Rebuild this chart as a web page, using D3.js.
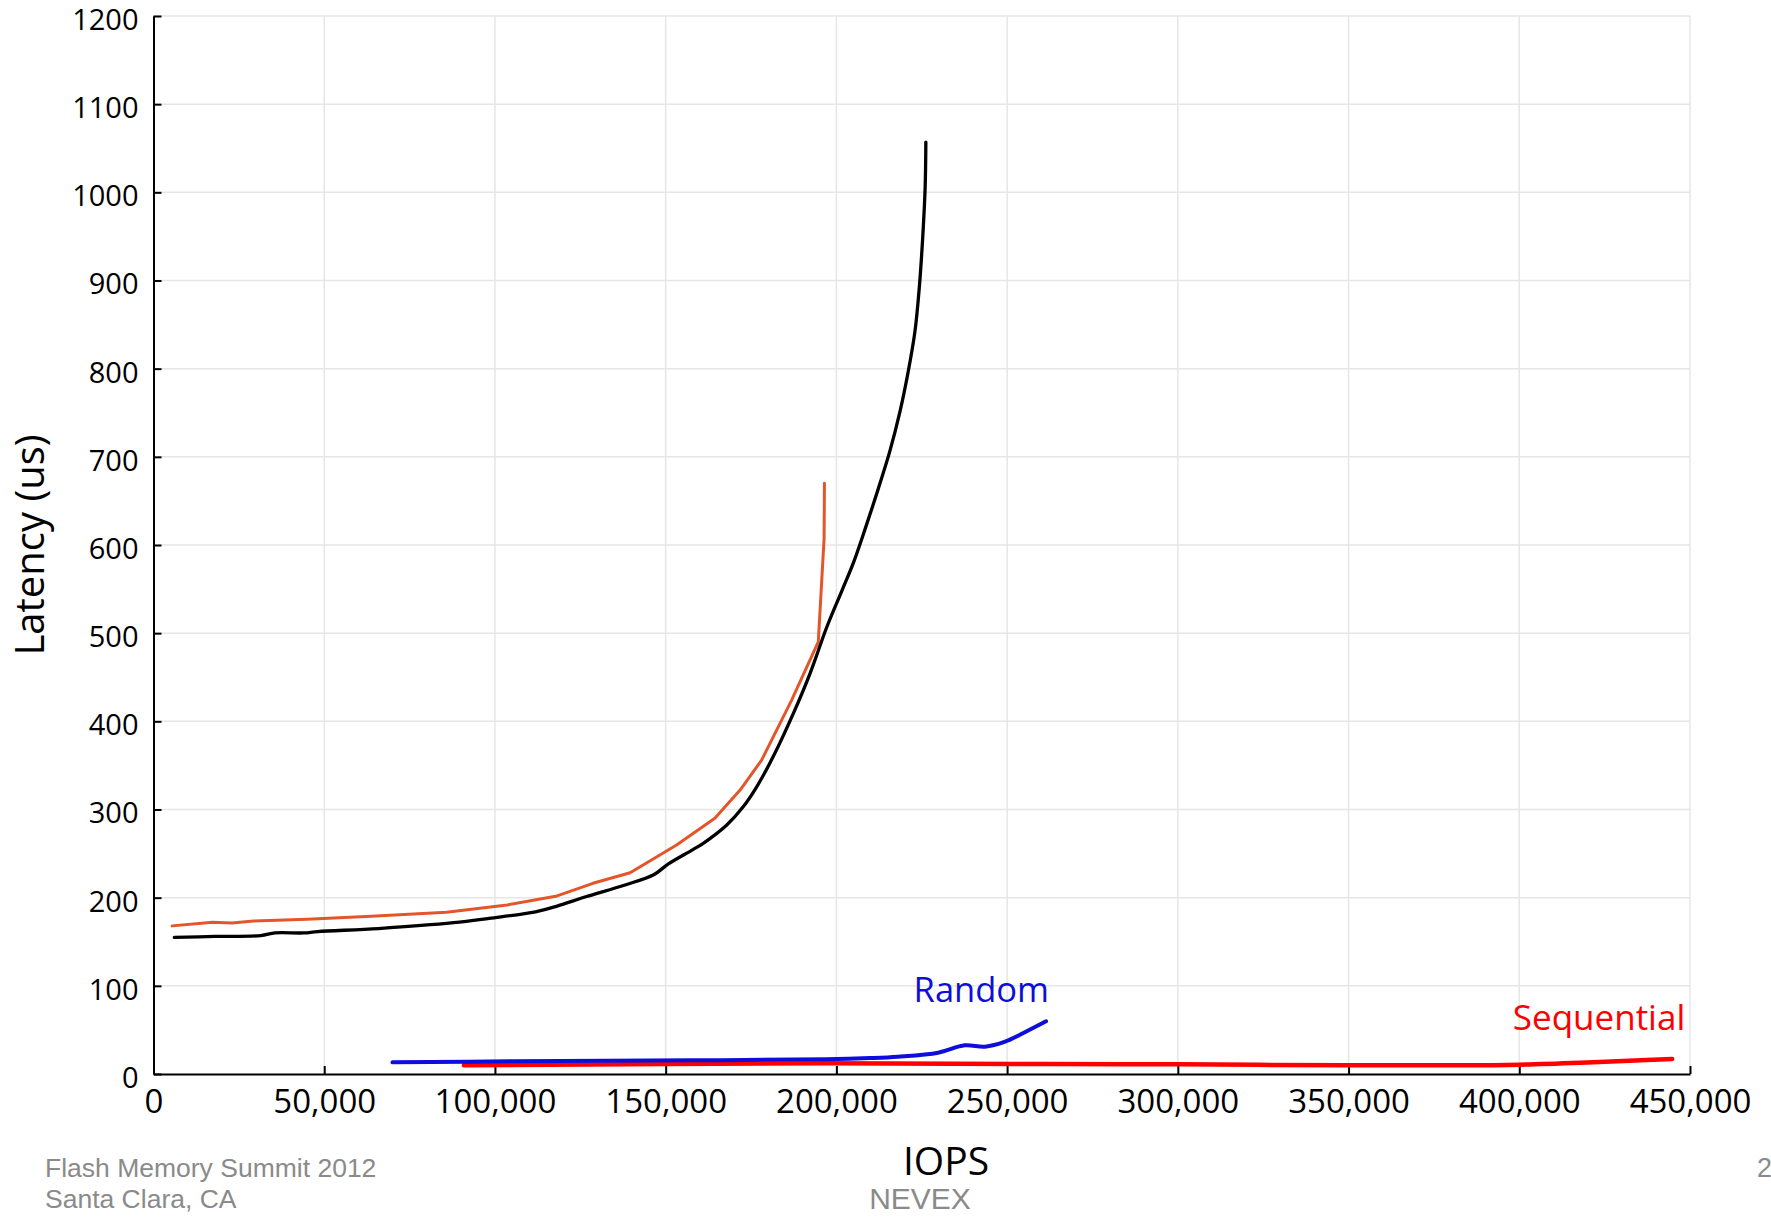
<!DOCTYPE html>
<html>
<head>
<meta charset="utf-8">
<script src="https://cdn.jsdelivr.net/npm/d3@7"></script>
<style>
  body { margin: 0; background: #fff; }
  svg { display: block; }
  .tick text { font-family: "Open Sans", sans-serif; fill: #000; }
  .footer { font-family: "Liberation Sans", Arial, sans-serif; fill: #8a8a8a; }
</style>
</head>
<body>
<div id="chart"></div>
<script>
// tick values
const xTicks = [0, 50000, 100000, 150000, 200000, 250000, 300000, 350000, 400000, 450000];
const yTicks = [0, 100, 200, 300, 400, 500, 600, 700, 800, 900, 1000, 1100, 1200];

// [iops, latency]
const blackSeries = [
  [6100, 155], [18000, 156], [31400, 157], [35600, 160], [44000, 160], [48100, 161.5],
  [65900, 165], [87900, 171.6], [98300, 176.6], [111900, 184], [118200, 190.5],
  [126600, 201], [138100, 214.4], [146500, 226], [150700, 238], [158000, 254.5],
  [161000, 261.6], [167900, 282.4], [172700, 303], [176700, 326], [181500, 360],
  [187400, 409], [192300, 454.5], [197200, 507], [201600, 548], [205000, 580],
  [208400, 618], [212200, 663], [215700, 707], [218600, 751], [221000, 796],
  [223000, 842], [224300, 893], [225300, 950], [226000, 1006], [226200, 1057]
];

const orangeSeries = [
  [5450, 168], [17300, 172], [23000, 171.3], [29300, 173.5], [45000, 175.4],
  [63800, 178.8], [85800, 183.4], [103600, 191.7], [118200, 202], [128700, 216.3],
  [139600, 228.3], [153200, 259.7], [164400, 290], [171800, 322], [178100, 356],
  [186900, 424], [194700, 490], [196400, 607.6], [196500, 670]
];

const randomSeries = [
  [70000, 13.2], [105500, 14.4], [157900, 15.5], [197000, 16.6], [210000, 18.1],
  [218000, 19.7], [229800, 24.2], [237600, 32.5], [243500, 31], [249400, 36.7],
  [255900, 48.8], [261400, 59.8]
];

const sequentialSeries = [
  [90900, 9.8], [197000, 12.1], [262600, 11.3], [300000, 11], [350000, 9.8],
  [382000, 9.8], [400000, 10.6], [418000, 12.8], [432300, 15.1], [444800, 17]
];

class LatencyChart {
  constructor() {
    this.margin = { top: 16, right: 81, bottom: 143, left: 153.5 };
    this.width = 1771 - this.margin.left - this.margin.right;
    this.height = 1217 - this.margin.top - this.margin.bottom;

    this.svg = d3.select("#chart").append("svg")
      .attr("width", 1771)
      .attr("height", 1217);

    this.g = this.svg.append("g")
      .attr("transform", `translate(${this.margin.left}, ${this.margin.top})`);

    // scales
    this.xScale = d3.scaleLinear().domain([0, 450000]).range([0, this.width]);
    this.yScale = d3.scaleLinear().domain([0, 1200]).range([this.height, 0]);
  }

  drawGrid() {
    // vertical grid
    this.g.append("g")
      .selectAll("line")
      .data(xTicks.slice(1))
      .join("line")
      .attr("x1", d => this.xScale(d))
      .attr("x2", d => this.xScale(d))
      .attr("y1", 0)
      .attr("y2", this.height)
      .attr("stroke", "#e6e6e6")
      .attr("stroke-width", 1.5);

    // horizontal grid
    this.g.append("g")
      .selectAll("line")
      .data(yTicks.slice(1))
      .join("line")
      .attr("x1", 0)
      .attr("x2", this.width)
      .attr("y1", d => this.yScale(d))
      .attr("y2", d => this.yScale(d))
      .attr("stroke", "#e6e6e6")
      .attr("stroke-width", 1.5);
  }

  drawAxes() {
    // x axis, ticks point inward
    let xAxis = this.g.append("g")
      .attr("transform", `translate(0, ${this.height})`)
      .call(d3.axisBottom(this.xScale)
        .tickValues(xTicks)
        .tickFormat(d3.format(","))
        .tickSizeInner(-8)
        .tickSizeOuter(0)
        .tickPadding(15.5));
    xAxis.selectAll("text").style("font-size", "33px");

    // y axis, labels sit a little below the tick
    let yAxis = this.g.append("g")
      .call(d3.axisLeft(this.yScale)
        .tickValues(yTicks)
        .tickFormat(d => d)
        .tickSizeInner(-8)
        .tickSizeOuter(0)
        .tickPadding(15));
    yAxis.selectAll("text")
      .attr("dy", "0.46em")
      .style("font-size", "29px");

    this.g.selectAll(".domain, .tick line")
      .attr("stroke", "#000")
      .attr("stroke-width", 2);

    // axis titles
    this.svg.append("text")
      .text("Latency (us)")
      .attr("transform", "translate(44, 545) rotate(-90)")
      .style("text-anchor", "middle")
      .style("font-family", "'Open Sans', sans-serif")
      .style("font-size", "40px");

    this.svg.append("text")
      .text("IOPS")
      .attr("x", 946)
      .attr("y", 1175)
      .style("text-anchor", "middle")
      .style("font-family", "'Open Sans', sans-serif")
      .style("font-size", "39px");
  }

  drawLines() {
    let smooth = d3.line()
      .curve(d3.curveCatmullRom.alpha(0.5))
      .x(d => this.xScale(d[0]))
      .y(d => this.yScale(d[1]));

    let straight = d3.line()
      .x(d => this.xScale(d[0]))
      .y(d => this.yScale(d[1]));

    this.addPath(sequentialSeries, smooth, "#ff0000", 4.5);
    this.addPath(randomSeries, smooth, "#0d0ddc", 4);
    this.addPath(orangeSeries, straight, "#e4562a", 3);
    this.addPath(blackSeries, smooth, "#000000", 3.3);

    // series labels sit above the last point of each line
    let rEnd = randomSeries[randomSeries.length - 1];
    this.g.append("text")
      .text("Random")
      .attr("x", this.xScale(rEnd[0]) + 3)
      .attr("y", this.yScale(rEnd[1]) - 19)
      .style("text-anchor", "end")
      .style("fill", "#0d0ddc")
      .style("font-family", "'Open Sans', sans-serif")
      .style("font-size", "34.5px");

    let sEnd = sequentialSeries[sequentialSeries.length - 1];
    this.g.append("text")
      .text("Sequential")
      .attr("x", this.xScale(sEnd[0]) + 13)
      .attr("y", this.yScale(sEnd[1]) - 29)
      .style("text-anchor", "end")
      .style("fill", "#ff0000")
      .style("font-family", "'Open Sans', sans-serif")
      .style("font-size", "35px");
  }

  addPath(data, gen, color, width) {
    this.g.append("path")
      .datum(data)
      .attr("d", gen)
      .attr("fill", "none")
      .attr("stroke", color)
      .attr("stroke-width", width)
      .attr("stroke-linecap", "round")
      .attr("stroke-linejoin", "round");
  }

  drawFooter() {
    this.svg.append("text").classed("footer", true)
      .text("Flash Memory Summit 2012")
      .attr("x", 45).attr("y", 1177)
      .style("font-size", "26.5px");
    this.svg.append("text").classed("footer", true)
      .text("Santa Clara, CA")
      .attr("x", 45).attr("y", 1208)
      .style("font-size", "26.5px");
    this.svg.append("text").classed("footer", true)
      .text("NEVEX")
      .attr("x", 920).attr("y", 1209)
      .style("text-anchor", "middle")
      .style("font-size", "30px");
    this.svg.append("text").classed("footer", true)
      .text("2")
      .attr("x", 1757).attr("y", 1177)
      .style("font-size", "27px");
  }
}

const chart = new LatencyChart();
chart.drawGrid();
chart.drawAxes();
chart.drawLines();
chart.drawFooter();
</script>
</body>
</html>
